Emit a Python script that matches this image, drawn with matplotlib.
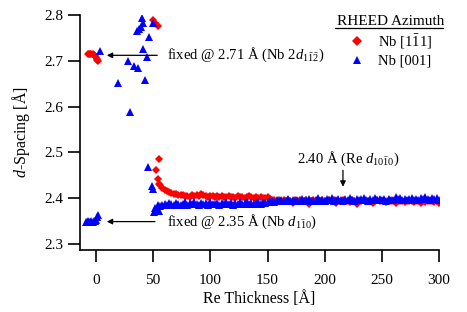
import numpy as np
import matplotlib
matplotlib.use("Agg")
import matplotlib.pyplot as plt
from matplotlib.lines import Line2D

plt.rcParams['font.family'] = ['Liberation Serif', 'DejaVu Serif']
plt.rcParams['mathtext.fontset'] = 'custom'
plt.rcParams['mathtext.rm'] = 'Liberation Serif'
plt.rcParams['mathtext.it'] = 'Liberation Serif:italic'

# ---------------- data ----------------
# Nb [1-11] azimuth (red diamonds)
red_fix_x = [-7, -6, -5, -4, -3, -2, -1, 0, 0.5, 1, 1.5]
red_fix_y = [2.714, 2.714, 2.715, 2.714, 2.714, 2.713, 2.711, 2.708, 2.705, 2.702, 2.700]
red_early_x = [49.5, 51.6, 53.9, 52.5, 53.9, 55.4, 55.4]
red_early_y = [2.788, 2.782, 2.775, 2.461, 2.441, 2.485, 2.432]
red_start = 56
red_y = [2.428, 2.422, 2.419, 2.416, 2.414, 2.412, 2.410, 2.409, 2.408, 2.407,
         2.406, 2.404, 2.405, 2.403, 2.406, 2.404, 2.407, 2.405, 2.410, 2.406,
         2.404, 2.403, 2.405, 2.404, 2.402, 2.404, 2.403, 2.405, 2.402, 2.403,
         2.404, 2.402, 2.403, 2.401, 2.404, 2.402, 2.403, 2.401, 2.402, 2.404,
         2.402, 2.401, 2.403, 2.400, 2.402, 2.401, 2.400, 2.402,
         2.398, 2.396, 2.397, 2.395, 2.397, 2.393, 2.396, 2.394, 2.397, 2.395,
         2.389, 2.396, 2.394, 2.397, 2.395, 2.393, 2.396, 2.388, 2.394, 2.396,
         2.395, 2.397, 2.394, 2.396, 2.393, 2.395, 2.397, 2.394, 2.396, 2.389,
         2.395, 2.393, 2.396, 2.394, 2.395, 2.392, 2.396, 2.394, 2.388, 2.395,
         2.393, 2.396, 2.394, 2.395, 2.393, 2.389, 2.394, 2.396, 2.393, 2.395,
         2.394, 2.392, 2.396, 2.393, 2.395, 2.390, 2.394, 2.393, 2.395, 2.392,
         2.394, 2.393, 2.395, 2.392, 2.394, 2.393, 2.390, 2.394, 2.392, 2.395,
         2.393, 2.394, 2.392, 2.393, 2.389]

# Nb [001] azimuth (blue triangles)
blue_fix_x = [-9, -8, -7, -6, -5, -4, -3, -2, -1, 0, 1, 2, 3.5]
blue_fix_y = [2.349, 2.349, 2.350, 2.349, 2.349, 2.350, 2.349, 2.350, 2.351, 2.353, 2.358, 2.364, 2.721]
blue_early_x = [40.2, 41.4, 39.3, 37.9, 35.5, 49.5, 46.6, 41.4, 44.3, 28.0, 33.5, 36.7,
                42.8, 19.0, 29.7, 45.7, 48.6, 50.0, 50.7, 52.0, 53.0, 54.0, 55.0]
blue_early_y = [2.793, 2.782, 2.774, 2.769, 2.766, 2.782, 2.751, 2.725, 2.709, 2.699, 2.688, 2.685,
                2.658, 2.651, 2.588, 2.468, 2.426, 2.421, 2.370, 2.378, 2.373, 2.385, 2.372]
blue_start = 56
blue_y = [2.384, 2.386, 2.388, 2.385, 2.389, 2.387, 2.386, 2.390, 2.387, 2.385,
          2.388, 2.391, 2.386, 2.389, 2.387, 2.392, 2.388, 2.386, 2.390, 2.387,
          2.389, 2.386, 2.391, 2.388, 2.387, 2.390, 2.386, 2.389, 2.388, 2.391,
          2.387, 2.389, 2.386, 2.390, 2.388, 2.392, 2.387, 2.389, 2.391, 2.388,
          2.390, 2.387, 2.389, 2.392, 2.388, 2.390, 2.389, 2.391,
          2.393, 2.395, 2.392, 2.396, 2.394, 2.397, 2.393, 2.395, 2.398, 2.394,
          2.396, 2.393, 2.397, 2.395, 2.399, 2.394, 2.396, 2.398, 2.395, 2.393,
          2.397, 2.400, 2.395, 2.397, 2.394, 2.398, 2.396, 2.401, 2.395, 2.397,
          2.399, 2.396, 2.394, 2.398, 2.396, 2.400, 2.397, 2.395, 2.398, 2.396,
          2.399, 2.401, 2.397, 2.395, 2.398, 2.396, 2.400, 2.397, 2.399, 2.396,
          2.398, 2.395, 2.399, 2.397, 2.396, 2.403, 2.398, 2.400, 2.397, 2.399,
          2.396, 2.398, 2.401, 2.397, 2.399, 2.396, 2.400, 2.398, 2.402, 2.399,
          2.397, 2.400, 2.398, 2.401, 2.397]

xticks = [0, 50, 100, 150, 200, 250, 300]
yticks = [2.3, 2.4, 2.5, 2.6, 2.7, 2.8]

# ---------------- figure ----------------
fig = plt.figure(figsize=(4.67, 3.12), dpi=100)
ax = fig.add_axes([80/467, 1-250/312, (439-80)/467, (250-15)/312])

red_x_all = red_fix_x + red_early_x + list(red_start + 2*np.arange(len(red_y)))
red_y_all = red_fix_y + red_early_y + red_y
blue_x_all = blue_fix_x + blue_early_x + list(blue_start + 2*np.arange(len(blue_y)))
blue_y_all = blue_fix_y + blue_early_y + blue_y

ax.plot(red_x_all, red_y_all, linestyle='none', marker='D', color='#ff0000',
        markersize=4.4, markeredgewidth=0, label=r'Nb [1$\bar{1}$1]')
ax.plot(blue_x_all, blue_y_all, linestyle='none', marker='^', color='#0000ff',
        markersize=5.6, markeredgewidth=0, label='Nb [001]')

ax.set_xlim(-14, 300)
ax.set_ylim(2.287, 2.8)
ax.set_xticks(xticks)
ax.set_yticks(yticks)
ax.set_yticklabels([f"{t:.1f}" for t in yticks])
for s in ['top', 'right']:
    ax.spines[s].set_visible(False)
for s in ['left', 'bottom']:
    ax.spines[s].set_linewidth(1.2)
ax.tick_params(direction='out', length=8.5, width=1.2, labelsize=11, pad=3.5)
ax.tick_params(axis='x', pad=9)

ax.set_xlabel('Re Thickness [Å]', fontsize=11.5, labelpad=3)
ax.set_ylabel(r'$d$-Spacing [Å]', fontsize=11.5, labelpad=9)

fs = 10.5
ax.annotate('', xy=(7, 2.712), xytext=(56, 2.712),
            arrowprops=dict(arrowstyle='-|>', color='black', lw=0.9, mutation_scale=8))
ax.text(62, 2.712, r'fixed @ 2.71 Å (Nb 2$d_{1\bar{1}\bar{2}}$)', fontsize=fs, va='center', ha='left')
ax.annotate('', xy=(7, 2.349), xytext=(54, 2.349),
            arrowprops=dict(arrowstyle='-|>', color='black', lw=0.9, mutation_scale=8))
ax.text(62, 2.349, r'fixed @ 2.35 Å (Nb $d_{1\bar{1}0}$)', fontsize=fs, va='center', ha='left')
ax.annotate('', xy=(216, 2.419), xytext=(216, 2.467),
            arrowprops=dict(arrowstyle='-|>', color='black', lw=0.9, mutation_scale=8))
ax.text(221, 2.487, r'2.40 Å (Re $d_{10\bar{1}0}$)', fontsize=fs, va='center', ha='center')

leg = ax.legend(loc='upper left', bbox_to_anchor=(330/467, 1-8/312), bbox_transform=fig.transFigure,
                frameon=False, fontsize=fs, title='RHEED Azimuth', title_fontsize=11,
                handlelength=1.0, handletextpad=0.9, borderpad=0, labelspacing=0.25,
                markerscale=1.15)
leg._legend_box.sep = 3
fig.add_artist(Line2D([335/467, 443/467], [1-27.5/312, 1-27.5/312], color='black', lw=0.9))

fig.savefig('out.png', dpi=100)
